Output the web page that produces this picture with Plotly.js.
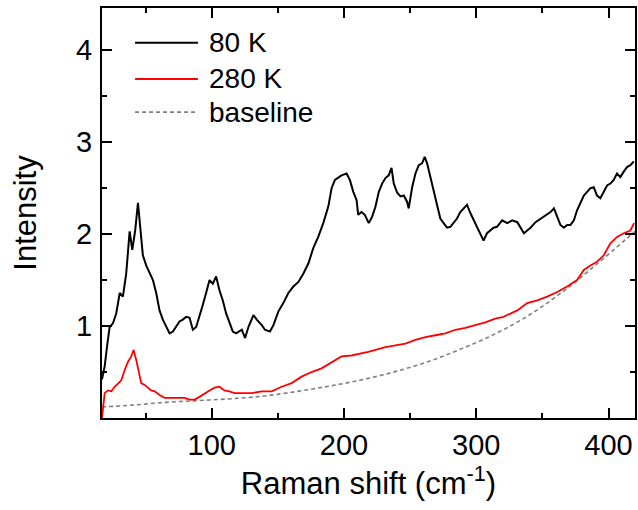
<!DOCTYPE html>
<html>
<head>
<meta charset="utf-8">
<script src="https://cdn.plot.ly/plotly-3.0.1.min.js"></script>
<style>
html,body{margin:0;padding:0;background:#fff;}
#chart{width:638px;height:510px;}
</style>
</head>
<body>
<div id="chart"></div>
<script>
// ---- Data ----
const x80 = [17.0,19.0,21.0,22.8,25.3,27.8,30.4,32.8,35.3,37.9,39.9,42.1,44.2,46.2,47.9,50.4,53.0,55.5,58.0,60.5,63.0,65.5,68.1,70.6,73.1,75.6,78.1,80.6,83.2,85.7,88.2,90.7,93.2,95.7,98.3,100.8,103.3,105.8,108.3,110.8,113.4,115.9,118.4,122.7,125.2,127.7,131.5,134.0,137.8,140.2,144.0,146.6,150.4,154.1,157.9,161.7,165.5,169.2,173.0,176.8,180.5,184.3,188.1,190.6,193.1,195.6,198.1,201.9,204.4,207.0,209.5,210.7,213.2,215.7,218.7,221.3,223.8,226.3,228.8,231.3,233.8,235.9,237.6,240.2,242.7,245.2,247.7,248.9,251.5,254.0,256.5,259.0,261.0,262.8,265.3,267.8,270.4,272.8,275.3,277.9,280.4,282.9,285.4,287.9,290.4,293.0,295.5,298.0,300.5,303.0,305.5,308.1,310.6,313.1,315.6,318.1,319.6,323.4,327.2,331.0,333.5,336.0,338.5,341.0,344.8,348.6,352.3,356.1,358.7,361.2,363.6,366.2,368.7,371.2,373.8,376.2,378.7,381.3,383.8,386.3,388.8,391.3,393.8,396.4,398.9,401.4,403.9,406.4,408.9,411.5,414.0,416.5,419.1];
const y80 = [0.42,0.56,0.80,0.99,1.03,1.14,1.36,1.32,1.57,2.03,1.83,2.04,2.34,2.04,1.77,1.66,1.57,1.50,1.36,1.17,1.07,0.99,0.92,0.94,0.99,1.05,1.07,1.10,1.09,0.96,0.99,1.10,1.23,1.36,1.50,1.46,1.54,1.39,1.28,1.14,1.03,0.94,0.92,0.96,0.87,0.99,1.12,1.07,1.01,0.96,0.94,1.01,1.16,1.25,1.36,1.43,1.48,1.57,1.68,1.85,1.97,2.12,2.30,2.50,2.59,2.62,2.64,2.66,2.59,2.46,2.37,2.21,2.24,2.21,2.12,2.19,2.30,2.46,2.55,2.61,2.64,2.72,2.55,2.45,2.41,2.42,2.35,2.28,2.51,2.66,2.75,2.77,2.84,2.77,2.62,2.48,2.34,2.17,2.12,2.07,2.08,2.13,2.17,2.24,2.28,2.32,2.23,2.15,2.08,1.99,1.93,2.01,2.04,2.07,2.08,2.12,2.15,2.12,2.15,2.13,2.07,2.01,2.04,2.07,2.13,2.17,2.21,2.24,2.28,2.19,2.10,2.07,2.10,2.10,2.15,2.26,2.34,2.42,2.46,2.50,2.51,2.42,2.39,2.46,2.53,2.55,2.59,2.66,2.62,2.68,2.73,2.75,2.79];

const x280 = [17.0,18.0,19.0,21.5,24.0,26.6,29.1,31.6,34.1,36.6,39.1,40.9,42.9,44.7,46.7,49.2,51.7,54.2,56.8,60.5,64.3,68.1,71.9,75.6,79.4,83.2,87.0,90.7,94.5,98.3,102.1,105.8,109.6,113.4,117.2,122.7,130.2,137.8,145.3,152.8,160.4,167.9,175.5,183.0,190.6,198.1,205.7,213.2,218.3,223.8,231.3,238.9,246.4,254.0,261.5,269.1,276.6,284.2,291.7,299.3,306.8,314.4,320.6,323.4,331.0,338.5,346.1,353.6,361.2,368.7,376.2,381.3,386.3,391.3,396.4,401.4,406.4,411.5,416.5,419.3];
const y280 = [0.00,0.15,0.27,0.30,0.29,0.34,0.38,0.41,0.52,0.61,0.67,0.74,0.63,0.49,0.38,0.36,0.33,0.30,0.29,0.25,0.22,0.22,0.22,0.22,0.22,0.20,0.20,0.23,0.27,0.30,0.33,0.34,0.30,0.29,0.27,0.27,0.27,0.29,0.29,0.34,0.38,0.45,0.50,0.54,0.61,0.67,0.68,0.70,0.72,0.74,0.77,0.79,0.81,0.85,0.88,0.90,0.92,0.96,0.98,1.01,1.04,1.08,1.10,1.12,1.17,1.25,1.28,1.32,1.37,1.43,1.50,1.61,1.66,1.70,1.77,1.90,1.97,2.01,2.04,2.12];

const xBase = [17,40,65,90,115,140,165,190,215,240,265,290,315,340,365,390,420];
const yBase = [0.12,0.14,0.17,0.19,0.21,0.24,0.29,0.35,0.42,0.51,0.62,0.76,0.92,1.12,1.37,1.66,2.03];

const seriesNames = ['80 K','280 K','baseline'];
const xTickVals = [100,200,300,400];
const xMinorVals = [50,150,250,350];
const yTickVals = [1,2,3,4];
const yMinorVals = [0.5,1.5,2.5,3.5];

// ---- Plot ----
const FONT = 'Liberation Sans, Arial, sans-serif';
const traces = [
  {x:xBase, y:yBase, mode:'lines', name:seriesNames[2], line:{color:'#808080', width:1.6, dash:'4px,3px', shape:'spline'}, showlegend:false},
  {x:x280, y:y280, mode:'lines', name:seriesNames[1], line:{color:'#ff0000', width:1.8}, showlegend:false},
  {x:x80, y:y80, mode:'lines', name:seriesNames[0], line:{color:'#000000', width:2}, showlegend:false}
];

const axisCommon = {
  showline:true, linecolor:'#000', linewidth:2, mirror:'allticks',
  ticks:'inside', ticklen:10, tickwidth:2, tickcolor:'#000',
  showgrid:false, zeroline:false,
  tickfont:{family:FONT, size:29, color:'#000'}
};

const legY = [0.915, 0.827, 0.746];
const legColors = ['#000000','#ff0000','#808080'];
const legDash = ['solid','solid','4px,3px'];
const shapes = seriesNames.map((n,i)=>({type:'line', xref:'paper', yref:'paper', x0:0.062, x1:0.18, y0:legY[i], y1:legY[i], line:{color:legColors[i], width: i===2?1.6:2, dash:legDash[i]}}));
const annotations = seriesNames.map((n,i)=>({xref:'paper', yref:'paper', x:0.197, y:legY[i], xanchor:'left', yanchor:'middle', text:n, showarrow:false, font:{family:FONT, size:28, color:'#000'}}));

const layout = {
  width:638, height:510,
  margin:{l:102, r:3, t:8, b:92},
  paper_bgcolor:'#fff', plot_bgcolor:'#fff',
  font:{family:FONT, color:'#000'},
  showlegend:false,
  xaxis: Object.assign({}, axisCommon, {
    range:[17,420], tickmode:'array', tickvals:xTickVals,
    minor:{tickmode:'array', tickvals:xMinorVals, ticklen:5, tickwidth:2, tickcolor:'#000', ticks:'inside'},
    title:{text:'Raman shift (cm<sup>-1</sup>)', font:{family:FONT, size:31, color:'#000'}, standoff:6}
  }),
  yaxis: Object.assign({}, axisCommon, {
    range:[0,4.46], tickmode:'array', tickvals:yTickVals, ticklabelstandoff:2,
    minor:{tickmode:'array', tickvals:yMinorVals, ticklen:5, tickwidth:2, tickcolor:'#000', ticks:'inside'},
    title:{text:'Intensity', font:{family:FONT, size:31, color:'#000'}, standoff:30}
  }),
  shapes:shapes,
  annotations:annotations
};

Plotly.newPlot('chart', traces, layout, {displayModeBar:false, staticPlot:true});
</script>
</body>
</html>
